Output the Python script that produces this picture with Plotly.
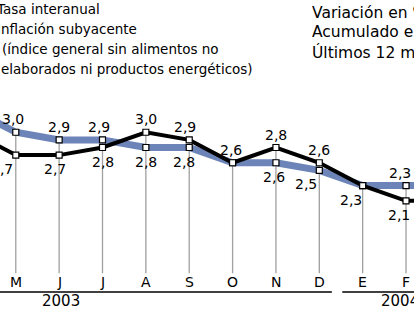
import plotly.graph_objects as go

# ---- data (Apr 2003 .. Mar 2004; first and last are partly off the crop) ----
months = ["A", "M", "J", "J", "A", "S", "O", "N", "D", "E", "F", "M"]
general = [3.0, 2.7, 2.7, 2.8, 3.0, 2.9, 2.6, 2.8, 2.6, 2.3, 2.1, 2.1]
subyacente = [3.3, 3.0, 2.9, 2.9, 2.8, 2.8, 2.6, 2.6, 2.5, 2.3, 2.3, 2.3]
years = ["2003", "2004"]
title_lines = ["Tasa interanual", "Inflación subyacente",
               "(índice general sin alimentos no",
               "elaborados ni productos energéticos)"]
right_lines = ["Variación en %", "Acumulado en el año", "Últimos 12 meses"]

# ---- label placement (style) ----
general_pos = [None, "below", "below", "below", "above", "above", "above", "above", "above", "below", "below", None]
general_dx = [0, -14, -4, 0, 0, -4, -2, 0, 0, -12, -7, 0]
suby_pos = [None, "above", "above", "above", "below", "below", None, "below", "below", None, "above", None]
suby_dx = [0, -3, 0, -4, 0, -5, 0, -2, -13, 0, -6, 0]

W, H = 414, 311
BLUE = "#6c84b7"
FONT = "DejaVu Sans"
xs = list(range(len(months)))
base = 1.15

fig = go.Figure()

# drop lines
vx, vy = [], []
for i in xs:
    vx += [i, i, None]
    vy += [max(general[i], subyacente[i]), base, None]
fig.add_trace(go.Scatter(x=vx, y=vy, mode="lines",
                         line=dict(color="#a0a0a0", width=1.3), hoverinfo="skip"))

fig.add_trace(go.Scatter(x=xs, y=subyacente, mode="lines",
                         line=dict(color=BLUE, width=7)))
fig.add_trace(go.Scatter(x=xs, y=general, mode="lines",
                         line=dict(color="black", width=4)))
mk = dict(symbol="square", size=6, color="white", line=dict(color="black", width=1.2))
fig.add_trace(go.Scatter(x=xs, y=subyacente, mode="markers", marker=mk))
fig.add_trace(go.Scatter(x=xs, y=general, mode="markers", marker=mk))

ann = []
def fmt(v):
    return f"{v:.1f}".replace(".", ",")

for vals, pos, dx in ((general, general_pos, general_dx), (subyacente, suby_pos, suby_dx)):
    for i, v in enumerate(vals):
        if pos[i] is None:
            continue
        ann.append(dict(x=i, y=v, xref="x", yref="y", text=fmt(v), showarrow=False,
                        xanchor="center", yanchor="middle", xshift=dx[i],
                        yshift=13 if pos[i] == "above" else -14,
                        font=dict(family=FONT, size=14, color="black")))

for i, m in enumerate(months):
    ann.append(dict(x=i, y=1 - 282 / H, xref="x", yref="paper", text=m, showarrow=False,
                    xanchor="center", yanchor="middle",
                    font=dict(family=FONT, size=14, color="black")))

for yx, y in zip((2.05, 9.87), years):
    ann.append(dict(x=yx, y=1 - 301 / H, xref="x", yref="paper", text=y, showarrow=False,
                    xanchor="center", yanchor="middle",
                    font=dict(family=FONT, size=15, color="black")))

title_x = [-6, -5, 0, -1]
for k, t in enumerate(title_lines):
    ann.append(dict(x=title_x[k] / W, y=1 - (9 + 20 * k) / H, xref="paper", yref="paper",
                    text=t, showarrow=False, xanchor="left", yanchor="middle",
                    font=dict(family=FONT, size=13.5, color="black")))
for k, t in enumerate(right_lines):
    ann.append(dict(x=310 / W, y=1 - (13 + 19.5 * k) / H, xref="paper", yref="paper",
                    text=t, showarrow=False, xanchor="left", yanchor="middle",
                    font=dict(family=FONT, size=15.5, color="black")))

shapes = [
    dict(type="line", xref="x", yref="paper", x0=-1, x1=8.29, y0=1 - 292 / H, y1=1 - 292 / H,
         line=dict(color="black", width=1.5)),
    dict(type="line", xref="x", yref="paper", x0=8.53, x1=12, y0=1 - 292 / H, y1=1 - 292 / H,
         line=dict(color="black", width=1.5)),
]

fig.update_layout(
    width=W, height=H, margin=dict(l=0, r=0, t=0, b=0),
    paper_bgcolor="white", plot_bgcolor="white", showlegend=False,
    xaxis=dict(range=[0.636, 10.184], visible=False, fixedrange=True),
    yaxis=dict(range=[0.654, 4.736], visible=False, fixedrange=True),
    annotations=ann, shapes=shapes,
)
fig.write_html("out.html")
